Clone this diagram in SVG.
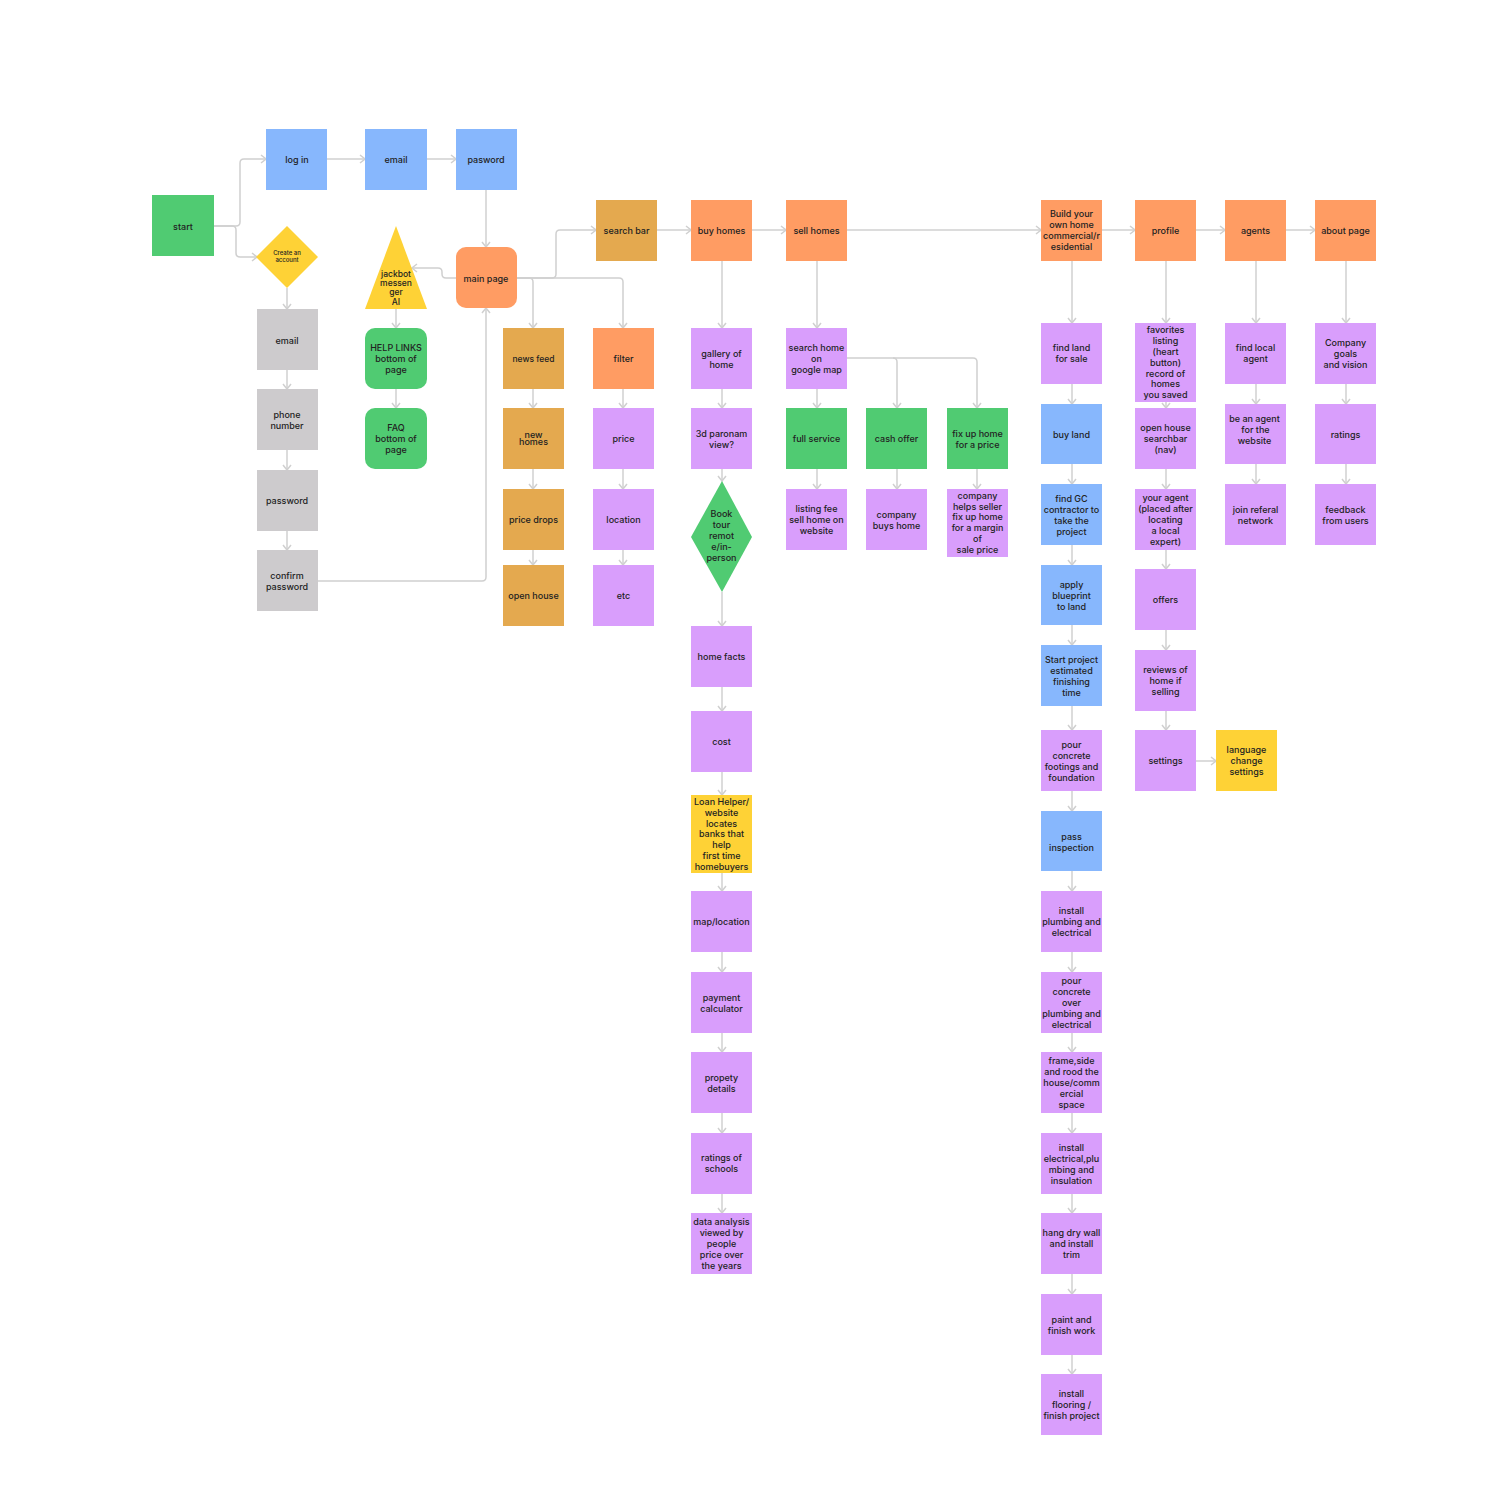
<svg xmlns="http://www.w3.org/2000/svg" width="1488" height="1490" viewBox="0 0 1488 1490">
<defs>
<style>
.g{fill:#50cb72}.b{fill:#87b7fd}.o{fill:#ff9c63}.m{fill:#e4a94f}.p{fill:#d99efc}.y{fill:#fed236}.gr{fill:#cdcbcd}
text{font-family:Inter,"Liberation Sans",sans-serif;font-size:9px;font-weight:500;fill:#222;text-anchor:middle}
.sm{font-size:6px}.s8{font-size:8.5px}
.c path{fill:none;stroke:#d0d0d0;stroke-width:1.5;marker-end:url(#a)}
</style>
<marker id="a" viewBox="0 0 10 10" refX="9" refY="5" markerWidth="10" markerHeight="10" markerUnits="userSpaceOnUse" orient="auto">
<path d="M4,1 L9,5 L4,9" fill="none" stroke="#d0d0d0" stroke-width="1.5"/>
</marker>
</defs>
<rect width="1488" height="1490" fill="#fff"/>
<g class="c" id="connectors">
<path d="M214,226 H236 Q240,226 240,222 V163 Q240,159 244,159 H266"/>
<path d="M214,226 H232 Q236,226 236,230 V253 Q236,257 240,257 H257"/>
<path d="M327,159 H365"/>
<path d="M427,159 H456"/>
<path d="M486,190 V247"/>
<path d="M456,278 H446 Q442,278 442,274 V272 Q442,268 438,268 H412"/>
<path d="M318,581 H482 Q486,581 486,577 V308"/>
<path d="M517,278 H552 Q556,278 556,274 V234 Q556,230 560,230 H596"/>
<path d="M517,278 H529 Q533,278 533,282 V328"/>
<path d="M517,278 H619 Q623,278 623,282 V328"/>
<path d="M287,288 V309"/><path d="M287,370 V389"/><path d="M287,450 V470"/><path d="M287,531 V550"/>
<path d="M396,309 V328"/><path d="M396,389 V408"/>
<path d="M533,389 V408"/><path d="M533,469 V489"/><path d="M533,550 V565"/>
<path d="M623,389 V408"/><path d="M623,469 V489"/><path d="M623,550 V565"/>
<path d="M657,230 H691"/><path d="M752,230 H786"/><path d="M847,230 H1041"/><path d="M1102,230 H1135"/><path d="M1196,230 H1225"/><path d="M1286,230 H1315"/>
<path d="M722,261 V328"/><path d="M722,389 V408"/><path d="M722,469 V481"/><path d="M722,592 V626"/><path d="M722,687 V711"/><path d="M722,772 V795"/><path d="M722,873 V891"/><path d="M722,952 V972"/><path d="M722,1033 V1052"/><path d="M722,1113 V1133"/><path d="M722,1194 V1213"/>
<path d="M817,261 V328"/><path d="M817,389 V408"/><path d="M817,469 V489"/>
<path d="M847,358 H893 Q897,358 897,362 V408"/>
<path d="M893,358 H973 Q977,358 977,362 V408"/>
<path d="M897,469 V489"/><path d="M977,469 V489"/>
<path d="M1072,261 V323"/><path d="M1072,384 V404"/><path d="M1072,464 V484"/><path d="M1072,545 V565"/><path d="M1072,625 V645"/><path d="M1072,706 V730"/><path d="M1072,791 V811"/><path d="M1072,871 V891"/><path d="M1072,952 V972"/><path d="M1072,1033 V1052"/><path d="M1072,1113 V1133"/><path d="M1072,1194 V1213"/><path d="M1072,1274 V1294"/><path d="M1072,1355 V1374"/>
<path d="M1166,261 V323"/><path d="M1166,400 V408"/><path d="M1166,469 V489"/><path d="M1166,550 V569"/><path d="M1166,630 V650"/><path d="M1166,711 V730"/>
<path d="M1196,761 H1216"/>
<path d="M1256,261 V323"/><path d="M1256,384 V404"/><path d="M1256,464 V484"/>
<path d="M1346,261 V323"/><path d="M1346,384 V404"/><path d="M1346,464 V484"/>
</g>
<g id="start"><rect class="g" x="152" y="195" width="62" height="61"/><text x="183" y="229.5">start</text></g>
<g id="login"><rect class="b" x="266" y="129" width="61" height="61"/><text x="297" y="162.5">log in</text></g>
<g id="email1"><rect class="b" x="365" y="129" width="62" height="61"/><text x="396" y="162.5">email</text></g>
<g id="pasword"><rect class="b" x="456" y="129" width="61" height="61"/><text x="486" y="162.5">pasword</text></g>
<g id="create"><polygon class="y" points="287,226 318,257 287,288 256,257"/><text class="sm" x="287" y="255">Create an</text><text class="sm" x="287" y="262">account</text></g>
<g id="email2"><rect class="gr" x="257" y="309" width="61" height="61"/><text x="287" y="343.5">email</text></g>
<g id="phone"><rect class="gr" x="257" y="389" width="61" height="61"/><text x="287" y="418">phone</text><text x="287" y="429">number</text></g>
<g id="password"><rect class="gr" x="257" y="470" width="61" height="61"/><text x="287" y="504">password</text></g>
<g id="confirm"><rect class="gr" x="257" y="550" width="61" height="61"/><text x="287" y="578.5">confirm</text><text x="287" y="589.5">password</text></g>
<g id="jackbot"><polygon class="y" points="396,226 427,309 365,309"/><text class="s8" x="396" y="276.5">jackbot</text><text class="s8" x="396" y="286">messen</text><text class="s8" x="396" y="295.3">ger</text><text class="s8" x="396" y="304.5">AI</text></g>
<g id="mainpage"><rect class="o" x="456" y="247" width="61" height="61" rx="10"/><text x="486" y="281.5">main page</text></g>
<g id="help"><rect class="g" x="365" y="328" width="62" height="61" rx="10"/><text x="396" y="351">HELP LINKS</text><text x="396" y="362">bottom of</text><text x="396" y="373">page</text></g>
<g id="faq"><rect class="g" x="365" y="408" width="62" height="61" rx="10"/><text x="396" y="431">FAQ</text><text x="396" y="442">bottom of</text><text x="396" y="453">page</text></g>
<g id="searchbar"><rect class="m" x="596" y="200" width="61" height="61"/><text x="626.5" y="233.5">search bar</text></g>
<g id="buyhomes"><rect class="o" x="691" y="200" width="61" height="61"/><text x="721.5" y="233.5">buy homes</text></g>
<g id="sellhomes"><rect class="o" x="786" y="200" width="61" height="61"/><text x="816.5" y="233.5">sell homes</text></g>
<g id="build"><rect class="o" x="1041" y="200" width="61" height="61"/><text x="1071.5" y="217">Build your</text><text x="1071.5" y="228">own home</text><text x="1071.5" y="239">commercial/r</text><text x="1071.5" y="250">esidential</text></g>
<g id="profile"><rect class="o" x="1135" y="200" width="61" height="61"/><text x="1165.5" y="233.5">profile</text></g>
<g id="agents"><rect class="o" x="1225" y="200" width="61" height="61"/><text x="1255.5" y="233.5">agents</text></g>
<g id="about"><rect class="o" x="1315" y="200" width="61" height="61"/><text x="1345.5" y="233.5">about page</text></g>
<g id="newsfeed"><rect class="m" x="503" y="328" width="61" height="61"/><text class="s8" x="533.5" y="361.5">news feed</text></g>
<g id="newhomes"><rect class="m" x="503" y="408" width="61" height="61"/><text x="533.5" y="437.5">new</text><text x="533.5" y="445">homes</text></g>
<g id="pricedrops"><rect class="m" x="503" y="489" width="61" height="61"/><text x="533.5" y="523">price drops</text></g>
<g id="openhouse"><rect class="m" x="503" y="565" width="61" height="61"/><text x="533.5" y="599">open house</text></g>
<g id="filter"><rect class="o" x="593" y="328" width="61" height="61"/><text x="623.5" y="361.5">filter</text></g>
<g id="price"><rect class="p" x="593" y="408" width="61" height="61"/><text x="623.5" y="442">price</text></g>
<g id="location"><rect class="p" x="593" y="489" width="61" height="61"/><text x="623.5" y="523">location</text></g>
<g id="etc"><rect class="p" x="593" y="565" width="61" height="61"/><text x="623.5" y="599">etc</text></g>
<g id="gallery"><rect class="p" x="691" y="328" width="61" height="61"/><text x="721.5" y="356.5">gallery of</text><text x="721.5" y="367.5">home</text></g>
<g id="paronam"><rect class="p" x="691" y="408" width="61" height="61"/><text x="721.5" y="436.5">3d paronam</text><text x="721.5" y="447.5">view?</text></g>
<g id="booktour"><polygon class="g" points="722,481 752,537 722,592 691,537"/><text x="721.5" y="517">Book</text><text x="721.5" y="528">tour</text><text x="721.5" y="539">remot</text><text x="721.5" y="550">e/in-</text><text x="721.5" y="561">person</text></g>
<g id="homefacts"><rect class="p" x="691" y="626" width="61" height="61"/><text x="721.5" y="660">home facts</text></g>
<g id="cost"><rect class="p" x="691" y="711" width="61" height="61"/><text x="721.5" y="745">cost</text></g>
<g id="loan"><rect class="y" x="691" y="795" width="61" height="78"/><text x="721.5" y="805">Loan Helper/</text><text x="721.5" y="815.8">website</text><text x="721.5" y="826.6">locates</text><text x="721.5" y="837.4">banks that</text><text x="721.5" y="848.2">help</text><text x="721.5" y="859">first time</text><text x="721.5" y="869.8">homebuyers</text></g>
<g id="maploc"><rect class="p" x="691" y="891" width="61" height="61"/><text x="721.5" y="925">map/location</text></g>
<g id="payment"><rect class="p" x="691" y="972" width="61" height="61"/><text x="721.5" y="1000.5">payment</text><text x="721.5" y="1011.5">calculator</text></g>
<g id="propety"><rect class="p" x="691" y="1052" width="61" height="61"/><text x="721.5" y="1080.5">propety</text><text x="721.5" y="1091.5">details</text></g>
<g id="schools"><rect class="p" x="691" y="1133" width="61" height="61"/><text x="721.5" y="1161">ratings of</text><text x="721.5" y="1172">schools</text></g>
<g id="data"><rect class="p" x="691" y="1213" width="61" height="61"/><text x="721.5" y="1225">data analysis</text><text x="721.5" y="1236">viewed by</text><text x="721.5" y="1247">people</text><text x="721.5" y="1258">price over</text><text x="721.5" y="1269">the years</text></g>
<g id="searchmap"><rect class="p" x="786" y="328" width="61" height="61"/><text x="816.5" y="351">search home</text><text x="816.5" y="362">on</text><text x="816.5" y="373">google map</text></g>
<g id="fullservice"><rect class="g" x="786" y="408" width="61" height="61"/><text x="816.5" y="442">full service</text></g>
<g id="cashoffer"><rect class="g" x="866" y="408" width="61" height="61"/><text x="896.5" y="442">cash offer</text></g>
<g id="fixup"><rect class="g" x="947" y="408" width="61" height="61"/><text x="977.5" y="436.5">fix up home</text><text x="977.5" y="447.5">for a price</text></g>
<g id="listingfee"><rect class="p" x="786" y="489" width="61" height="61"/><text x="816.5" y="512">listing fee</text><text x="816.5" y="523">sell home on</text><text x="816.5" y="534">website</text></g>
<g id="companybuys"><rect class="p" x="866" y="489" width="61" height="61"/><text x="896.5" y="517.5">company</text><text x="896.5" y="528.5">buys home</text></g>
<g id="companyhelps"><rect class="p" x="947" y="489" width="61" height="68"/><text x="977.5" y="499">company</text><text x="977.5" y="509.7">helps seller</text><text x="977.5" y="520.4">fix up home</text><text x="977.5" y="531.1">for a margin</text><text x="977.5" y="541.8">of</text><text x="977.5" y="552.5">sale price</text></g>
<g id="findland"><rect class="p" x="1041" y="323" width="61" height="61"/><text x="1071.5" y="351">find land</text><text x="1071.5" y="362">for sale</text></g>
<g id="buyland"><rect class="b" x="1041" y="404" width="61" height="60"/><text x="1071.5" y="437.5">buy land</text></g>
<g id="findgc"><rect class="b" x="1041" y="484" width="61" height="61"/><text x="1071.5" y="501.5">find GC</text><text x="1071.5" y="512.5">contractor to</text><text x="1071.5" y="523.5">take the</text><text x="1071.5" y="534.5">project</text></g>
<g id="blueprint"><rect class="b" x="1041" y="565" width="61" height="60"/><text x="1071.5" y="588">apply</text><text x="1071.5" y="599">blueprint</text><text x="1071.5" y="610">to land</text></g>
<g id="startproject"><rect class="b" x="1041" y="645" width="61" height="61"/><text x="1071.5" y="662.5">Start project</text><text x="1071.5" y="673.5">estimated</text><text x="1071.5" y="684.5">finishing</text><text x="1071.5" y="695.5">time</text></g>
<g id="footings"><rect class="p" x="1041" y="730" width="61" height="61"/><text x="1071.5" y="747.5">pour</text><text x="1071.5" y="758.5">concrete</text><text x="1071.5" y="769.5">footings and</text><text x="1071.5" y="780.5">foundation</text></g>
<g id="inspection"><rect class="b" x="1041" y="811" width="61" height="60"/><text x="1071.5" y="839.5">pass</text><text x="1071.5" y="850.5">inspection</text></g>
<g id="plumbing"><rect class="p" x="1041" y="891" width="61" height="61"/><text x="1071.5" y="914">install</text><text x="1071.5" y="925">plumbing and</text><text x="1071.5" y="936">electrical</text></g>
<g id="pourover"><rect class="p" x="1041" y="972" width="61" height="61"/><text x="1071.5" y="984">pour</text><text x="1071.5" y="995">concrete</text><text x="1071.5" y="1006">over</text><text x="1071.5" y="1017">plumbing and</text><text x="1071.5" y="1028">electrical</text></g>
<g id="frame"><rect class="p" x="1041" y="1052" width="61" height="61"/><text x="1071.5" y="1064">frame,side</text><text x="1071.5" y="1075">and rood the</text><text x="1071.5" y="1086">house/comm</text><text x="1071.5" y="1097">ercial</text><text x="1071.5" y="1108">space</text></g>
<g id="electrical"><rect class="p" x="1041" y="1133" width="61" height="61"/><text x="1071.5" y="1150.5">install</text><text x="1071.5" y="1161.5">electrical,plu</text><text x="1071.5" y="1172.5">mbing and</text><text x="1071.5" y="1183.5">insulation</text></g>
<g id="drywall"><rect class="p" x="1041" y="1213" width="61" height="61"/><text x="1071.5" y="1236">hang dry wall</text><text x="1071.5" y="1247">and install</text><text x="1071.5" y="1258">trim</text></g>
<g id="paint"><rect class="p" x="1041" y="1294" width="61" height="61"/><text x="1071.5" y="1322.5">paint and</text><text x="1071.5" y="1333.5">finish work</text></g>
<g id="flooring"><rect class="p" x="1041" y="1374" width="61" height="61"/><text x="1071.5" y="1397">install</text><text x="1071.5" y="1408">flooring /</text><text x="1071.5" y="1419">finish project</text></g>
<g id="favorites"><rect class="p" x="1135" y="323" width="61" height="79"/><text x="1165.5" y="333.3">favorites</text><text x="1165.5" y="344.1">listing</text><text x="1165.5" y="354.9">(heart</text><text x="1165.5" y="365.7">button)</text><text x="1165.5" y="376.5">record of</text><text x="1165.5" y="387.3">homes</text><text x="1165.5" y="398.1">you saved</text></g>
<g id="ohsearch"><rect class="p" x="1135" y="408" width="61" height="61"/><text x="1165.5" y="431">open house</text><text x="1165.5" y="442">searchbar</text><text x="1165.5" y="453">(nav)</text></g>
<g id="youragent"><rect class="p" x="1135" y="489" width="61" height="61"/><text x="1165.5" y="501">your agent</text><text x="1165.5" y="512">(placed after</text><text x="1165.5" y="523">locating</text><text x="1165.5" y="534">a local</text><text x="1165.5" y="545">expert)</text></g>
<g id="offers"><rect class="p" x="1135" y="569" width="61" height="61"/><text x="1165.5" y="603">offers</text></g>
<g id="reviews"><rect class="p" x="1135" y="650" width="61" height="61"/><text x="1165.5" y="673">reviews of</text><text x="1165.5" y="684">home if</text><text x="1165.5" y="695">selling</text></g>
<g id="settings"><rect class="p" x="1135" y="730" width="61" height="61"/><text x="1165.5" y="764">settings</text></g>
<g id="language"><rect class="y" x="1216" y="730" width="61" height="61"/><text x="1246.5" y="753">language</text><text x="1246.5" y="764">change</text><text x="1246.5" y="775">settings</text></g>
<g id="findagent"><rect class="p" x="1225" y="323" width="61" height="61"/><text x="1255.5" y="351">find local</text><text x="1255.5" y="362">agent</text></g>
<g id="beagent"><rect class="p" x="1225" y="404" width="61" height="60"/><text x="1254.5" y="421.5">be an agent</text><text x="1255.5" y="432.5">for the</text><text x="1254.5" y="443.5">website</text></g>
<g id="referal"><rect class="p" x="1225" y="484" width="61" height="61"/><text x="1255.5" y="512.5">join referal</text><text x="1255.5" y="523.5">network</text></g>
<g id="goals"><rect class="p" x="1315" y="323" width="61" height="61"/><text x="1345.5" y="346">Company</text><text x="1345.5" y="357">goals</text><text x="1345.5" y="368">and vision</text></g>
<g id="ratings"><rect class="p" x="1315" y="404" width="61" height="60"/><text x="1345.5" y="437.5">ratings</text></g>
<g id="feedback"><rect class="p" x="1315" y="484" width="61" height="61"/><text x="1345.5" y="512.5">feedback</text><text x="1345.5" y="523.5">from users</text></g>
</svg>
